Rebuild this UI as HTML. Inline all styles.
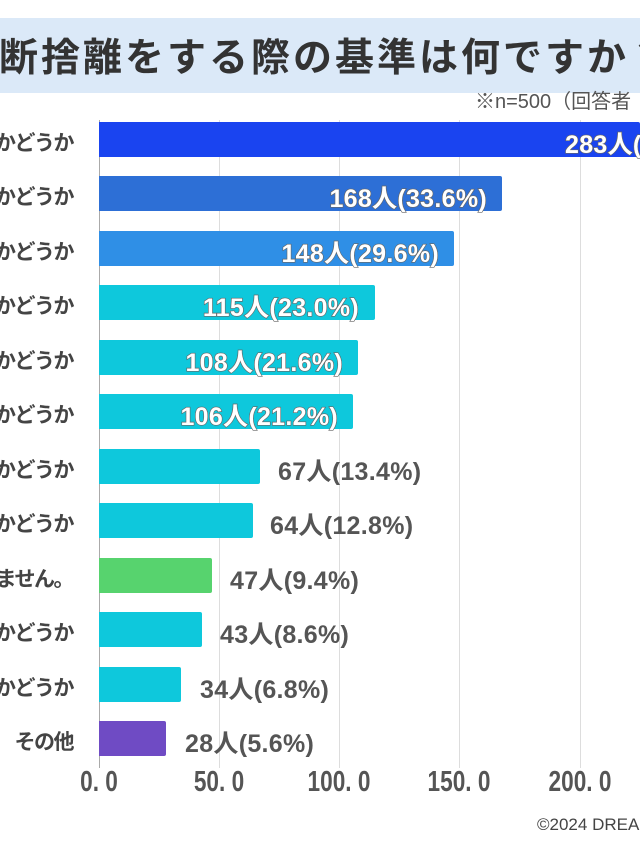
<!DOCTYPE html>
<html><head><meta charset="utf-8"><style>
*{margin:0;padding:0;box-sizing:border-box}
html,body{width:640px;height:853px;overflow:hidden}
body{background:#fff;position:relative;font-family:"Liberation Sans","Noto Sans CJK JP",sans-serif}
.title{position:absolute;left:0;top:18px;width:640px;height:75px;background:#dbe9f8;overflow:hidden}
.title span{position:absolute;left:-1px;top:9px;font-size:39px;font-weight:bold;color:#333;white-space:nowrap;letter-spacing:3px}
.sub{position:absolute;left:475px;top:85px;font-size:20px;color:#555;white-space:nowrap}
.grid{position:absolute;top:120px;width:1px;height:648px;background:#ddd}
.lab{position:absolute;right:567px;font-size:21px;font-weight:bold;color:#444;white-space:nowrap;text-align:right;letter-spacing:-1.5px}
.bar{position:absolute;left:99px;height:35px;border-radius:0 2px 2px 0}
.in{position:absolute;font-size:25px;font-weight:bold;color:#fff;white-space:nowrap;-webkit-text-stroke:1.3px #666;paint-order:stroke fill;text-align:right;letter-spacing:0.3px}
.out{position:absolute;font-size:25px;font-weight:bold;color:#555;white-space:nowrap;letter-spacing:0.3px}
.ax{position:absolute;top:766px;font-size:29px;font-weight:bold;color:#555;transform:translateX(-50%) scaleX(0.78);white-space:nowrap}
.foot{position:absolute;left:537px;top:815px;font-size:17px;color:#444;white-space:nowrap}
.clip{position:absolute;left:0;top:0;width:640px;height:853px;overflow:hidden}
</style></head><body><div class="clip">
<div class="title"><span>断捨離をする際の基準は何ですか？</span></div>
<div class="sub">※n=500（回答者</div>
<div class="grid" style="left:99px;background:#aaa"></div>
<div class="grid" style="left:219px"></div>
<div class="grid" style="left:339px"></div>
<div class="grid" style="left:459px"></div>
<div class="grid" style="left:580px"></div>

<div class="bar" style="top:122px;width:541px;background:#1a44f0"></div>
<div class="in" style="top:125px;left:565px">283人(56.6%)</div>
<div class="lab" style="top:127px">必要かどうか</div>

<div class="bar" style="top:176px;width:403px;background:#2d6fd6"></div>
<div class="in" style="top:179px;right:153px">168人(33.6%)</div>
<div class="lab" style="top:181px">使ったかどうか</div>

<div class="bar" style="top:231px;width:355px;background:#2f8fe6"></div>
<div class="in" style="top:234px;right:201px">148人(29.6%)</div>
<div class="lab" style="top:236px">使ったかどうか</div>

<div class="bar" style="top:285px;width:276px;background:#0ec8dc"></div>
<div class="in" style="top:288px;right:281px">115人(23.0%)</div>
<div class="lab" style="top:290px">好きかどうか</div>

<div class="bar" style="top:340px;width:259px;background:#0ec8dc"></div>
<div class="in" style="top:343px;right:297px">108人(21.6%)</div>
<div class="lab" style="top:345px">あるかどうか</div>

<div class="bar" style="top:394px;width:254px;background:#0ec8dc"></div>
<div class="in" style="top:397px;right:302px">106人(21.2%)</div>
<div class="lab" style="top:399px">いかどうか</div>

<div class="bar" style="top:449px;width:161px;background:#0ec8dc"></div>
<div class="out" style="top:452px;left:278px">67人(13.4%)</div>
<div class="lab" style="top:454px">あるかどうか</div>

<div class="bar" style="top:503px;width:154px;background:#0ec8dc"></div>
<div class="out" style="top:506px;left:270px">64人(12.8%)</div>
<div class="lab" style="top:508px">いかどうか</div>

<div class="bar" style="top:558px;width:113px;background:#57d36e"></div>
<div class="out" style="top:561px;left:230px">47人(9.4%)</div>
<div class="lab" style="top:563px">かもしれません。</div>

<div class="bar" style="top:612px;width:103px;background:#0ec8dc"></div>
<div class="out" style="top:615px;left:220px">43人(8.6%)</div>
<div class="lab" style="top:617px">いかどうか</div>

<div class="bar" style="top:667px;width:82px;background:#0ec8dc"></div>
<div class="out" style="top:670px;left:200px">34人(6.8%)</div>
<div class="lab" style="top:672px">ったかどうか</div>

<div class="bar" style="top:721px;width:67px;background:#6f4bc4"></div>
<div class="out" style="top:724px;left:185px">28人(5.6%)</div>
<div class="lab" style="top:726px">その他</div>

<div class="ax" style="left:99px">0. 0</div>
<div class="ax" style="left:219px">50. 0</div>
<div class="ax" style="left:339px">100. 0</div>
<div class="ax" style="left:459px">150. 0</div>
<div class="ax" style="left:580px">200. 0</div>
<div class="foot">©2024 DREAM</div>
</div></body></html>
